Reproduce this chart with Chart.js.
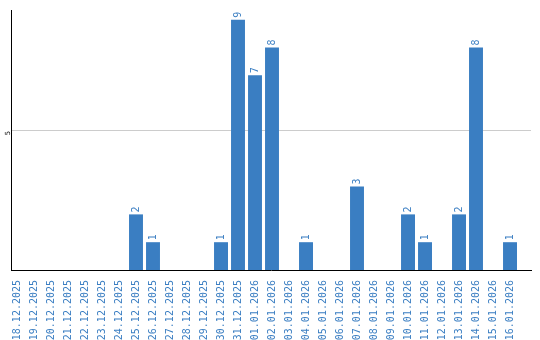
<!DOCTYPE html>
<html>
<head>
<meta charset="utf-8">
<script src="https://cdn.jsdelivr.net/npm/chart.js@4/dist/chart.umd.min.js"></script>
<style>
  html, body { margin: 0; padding: 0; background: #fff; }
  #wrap { width: 540px; height: 340px; }
</style>
</head>
<body>
<div id="wrap"><canvas id="chart"></canvas></div>
<script>
const dates = [
    '18.12.2025', '19.12.2025', '20.12.2025', '21.12.2025', '22.12.2025',
    '23.12.2025', '24.12.2025', '25.12.2025', '26.12.2025', '27.12.2025',
    '28.12.2025', '29.12.2025', '30.12.2025', '31.12.2025', '01.01.2026',
    '02.01.2026', '03.01.2026', '04.01.2026', '05.01.2026', '06.01.2026',
    '07.01.2026', '08.01.2026', '09.01.2026', '10.01.2026', '11.01.2026',
    '12.01.2026', '13.01.2026', '14.01.2026', '15.01.2026', '16.01.2026'
];
const counts = [0, 0, 0, 0, 0, 0, 0, 2, 1, 0, 0, 0, 1, 9, 7, 8, 0, 1, 0, 0, 3, 0, 0, 2, 1, 0, 2, 8, 0, 1];
const yTicks = [5];
const yMax = 9.35;

const blue = '#3a7ec2';
const mono = '"DejaVu Sans Mono", monospace';

// value labels above each bar, rotated like the axis labels
const valueLabels = {
    id: 'valueLabels',
    afterDatasetsDraw(chart) {
        const ctx = chart.ctx;
        const meta = chart.getDatasetMeta(0);
        ctx.save();
        ctx.fillStyle = blue;
        ctx.font = '10px ' + mono;
        ctx.textAlign = 'left';
        ctx.textBaseline = 'middle';
        meta.data.forEach((bar, i) => {
            if (!counts[i]) return;
            ctx.save();
            ctx.translate(bar.x, bar.y - 2);
            ctx.rotate(-Math.PI / 2);
            ctx.fillText(String(counts[i]), 0, 0);
            ctx.restore();
        });
        ctx.restore();
    }
};

new Chart(document.getElementById('chart'), {
    type: 'bar',
    data: {
        datasets: [{
            data: counts.map((c, i) => ({ x: i, y: c })),
            backgroundColor: blue,
            barPercentage: 0.82,
            categoryPercentage: 1
        }]
    },
    options: {
        responsive: true,
        maintainAspectRatio: false,
        animation: false,
        layout: { padding: { top: 10, right: 9, left: 0, bottom: 0 } },
        plugins: {
            legend: { display: false },
            tooltip: { enabled: false }
        },
        scales: {
            x: {
                type: 'linear',
                offset: false,
                min: -0.353,
                max: 30.235,
                grid: { display: false },
                border: { color: '#000', width: 1 },
                afterBuildTicks(s) { s.ticks = dates.map((d, i) => ({ value: i })); },
                ticks: {
                    color: blue,
                    font: { family: mono, size: 10 },
                    minRotation: 90,
                    maxRotation: 90,
                    autoSkip: false,
                    padding: 2,
                    callback: v => dates[v]
                },
                afterFit(s) { s.height = 70; }
            },
            y: {
                min: 0,
                max: yMax,
                border: { color: '#000', width: 1 },
                grid: { color: '#cccccc', drawTicks: false },
                afterBuildTicks(s) { s.ticks = yTicks.map(v => ({ value: v })); },
                ticks: {
                    color: '#000',
                    font: { family: mono, size: 7 },
                    minRotation: 90,
                    maxRotation: 90,
                    padding: 3
                },
                afterFit(s) { s.width = 11; }
            }
        }
    },
    plugins: [valueLabels]
});
</script>
</body>
</html>
